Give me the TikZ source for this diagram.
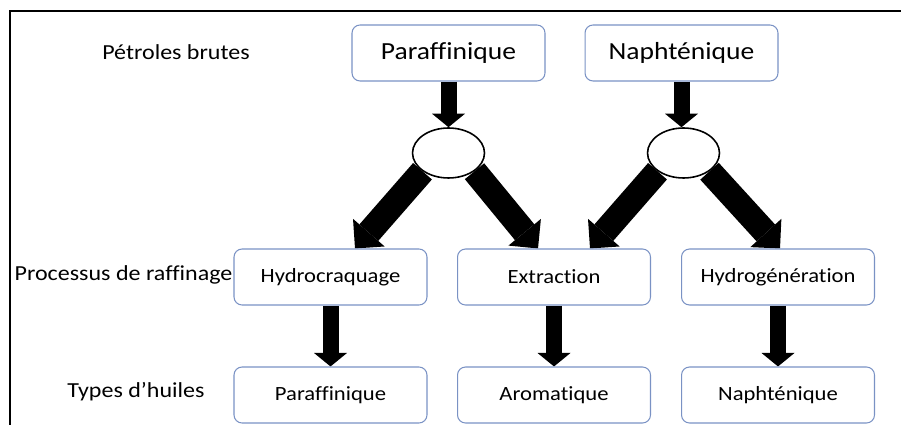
\documentclass[tikz,border=0pt]{standalone}
\usepackage{fontspec}
\setmainfont{Carlito}[FakeStretch=1.12,Ligatures=NoCommon]
\usetikzlibrary{arrows.meta,backgrounds,calc,shapes.geometric}
\definecolor{boxblue}{RGB}{122,146,196}

\begin{document}
\begin{tikzpicture}[x=0.02cm,y=-0.02cm,
	bigbox/.style={draw=boxblue,line width=0.6pt,rounded corners=0.16cm,minimum width=3.86cm,minimum height=1.12cm,font=\fontsize{14}{16}\selectfont},
	smallbox/.style={bigbox,font=\fontsize{11.5}{14}\selectfont},
	lbl/.style={font=\fontsize{12.2}{14}\selectfont,inner sep=0pt},
	junction/.style={ellipse,draw,line width=0.9pt,fill=white,minimum width=1.44cm,minimum height=1cm,inner sep=0pt},
	downarrow/.style={line width=0.32cm,-{Triangle[width=0.66cm,length=0.27cm,line width=0pt]}},
	diagarrow/.style={line width=0.5cm,-{Triangle[width=0.84cm,length=0.42cm,line width=0pt]}}]
	\useasboundingbox (0,0) rectangle (901,425);
	\draw[line width=1.1pt] (10,425) -- (10,11) -- (901,11);
	% row labels
	\node[lbl] (crude) at (176,52) {Pétroles brutes};
	\node[lbl] (refin) at (123.5,275) {Processus de raffinage};
	\node[lbl] (oils) at (136,392) {Types d’huiles};
	% crude oils
	\node[bigbox] (para) at (448.5,53) {Paraffinique};
	\node[bigbox] (naph) at (681.5,53) {Naphténique};
	\node[junction] (jl) at (448.5,153) {};
	\node[junction] (jr) at (683.5,153) {};
	% processes
	\node[smallbox] (hcrack) at (330.5,277) {Hydrocraquage};
	\node[smallbox] (extr) at (554,277) {Extraction};
	\node[smallbox] (hgen) at (778,277) {Hydrogénération};
	% oil types
	\node[smallbox] (opara) at (330.5,395) {Paraffinique};
	\node[smallbox] (oarom) at (554,395) {Aromatique};
	\node[smallbox] (onaph) at (778,395) {Naphténique};
	\begin{scope}[on background layer]
	\draw[downarrow] (para.south) -- (jl.north);
	\draw[downarrow] (naph.south) -- (naph.south |- jr.north);
	\draw[diagarrow] (jl.south west) -- ($(hcrack.north)+(24.5,0)$);
	\draw[diagarrow] (jl.south east) -- ($(extr.north)+(-16,0)$);
	\draw[diagarrow] (jr.south west) -- ($(extr.north)+(36,0)$);
	\draw[diagarrow] (jr.south east) -- ($(hgen.north)+(2,0)$);
	\draw[downarrow] (hcrack.south) -- (opara.north);
	\draw[downarrow] (extr.south) -- (oarom.north);
	\draw[downarrow] (hgen.south) -- (onaph.north);
	\end{scope}
\end{tikzpicture}
\end{document}
